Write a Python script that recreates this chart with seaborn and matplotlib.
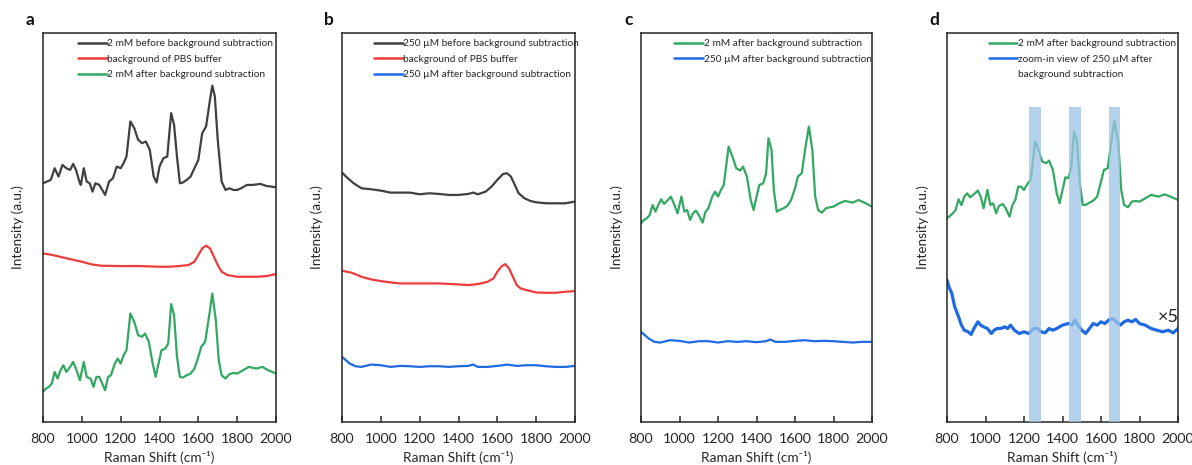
import matplotlib
matplotlib.use("Agg")
import matplotlib.pyplot as plt
from matplotlib.lines import Line2D
import seaborn as sns
import pandas as pd

# ---------------- spectra (Raman shift in cm-1, intensity in a.u., offset per trace) ----------------
# panel a: 2 mM
a_before_x = [800, 820, 840, 860, 880, 900, 920, 940, 955, 970, 990, 995, 1010, 1025, 1040, 1055,
              1070, 1090, 1105, 1120, 1140, 1160, 1180, 1200, 1215, 1230, 1250, 1270, 1290, 1310,
              1330, 1350, 1370, 1385, 1400, 1420, 1440, 1460, 1475, 1490, 1505, 1520, 1540, 1560,
              1580, 1600, 1620, 1640, 1660, 1672, 1685, 1700, 1720, 1740, 1760, 1780, 1800, 1820,
              1850, 1880, 1920, 1950, 2000]
a_before_y = [71.5, 72.0, 72.5, 76.0, 73.5, 77.0, 76.0, 75.5, 77.3, 75.5, 71.5, 71.0, 76.0, 72.0,
              71.5, 69.0, 71.5, 71.0, 69.5, 68.0, 72.0, 73.0, 76.5, 76.0, 77.5, 79.5, 90.0, 88.0,
              84.5, 83.5, 84.0, 81.5, 73.5, 71.7, 76.5, 79.0, 79.5, 92.5, 89.0, 79.5, 71.5, 71.7,
              72.5, 73.5, 76.0, 78.5, 86.5, 88.5, 96.5, 100.7, 97.5, 84.5, 72.0, 69.5, 70.0, 69.5,
              69.5, 70.0, 71.0, 71.0, 71.3, 70.7, 70.3]

a_pbs_x = [800, 850, 900, 1000, 1050, 1100, 1200, 1300, 1400, 1450, 1500, 1550, 1580, 1600, 1620,
           1640, 1660, 1680, 1700, 1720, 1750, 1800, 1850, 1900, 1950, 2000]
a_pbs_y = [50.5, 50.0, 49.3, 48.0, 47.2, 46.8, 46.7, 46.7, 46.5, 46.5, 46.7, 47.0, 48.0, 50.0, 52.0,
           52.8, 52.0, 49.5, 47.0, 45.0, 44.0, 43.5, 43.5, 43.5, 43.7, 44.3]

mm2_x = [800, 815, 830, 845, 860, 875, 890, 905, 920, 940, 955, 970, 990, 1010, 1025, 1045, 1060,
         1075, 1090, 1105, 1120, 1135, 1150, 1170, 1185, 1200, 1215, 1230, 1250, 1270, 1290, 1310,
         1325, 1345, 1365, 1380, 1395, 1410, 1430, 1445, 1460, 1475, 1490, 1505, 1520, 1540, 1560,
         1580, 1600, 1615, 1635, 1655, 1672, 1690, 1705, 1720, 1740, 1760, 1780, 1800, 1830, 1860,
         1900, 1930, 1960, 2000]
a_after_y = [9.0, 10.0, 10.5, 11.5, 15.0, 13.0, 15.5, 17.0, 15.0, 16.5, 18.0, 16.0, 12.5, 18.0, 13.5,
             13.0, 10.5, 13.5, 13.5, 11.5, 9.5, 13.5, 14.0, 17.5, 19.0, 17.5, 20.0, 21.5, 32.5, 30.0,
             26.0, 25.5, 26.5, 24.0, 17.5, 13.5, 17.5, 21.5, 22.0, 23.5, 35.3, 32.0, 19.5, 13.5, 13.3,
             14.0, 14.5, 16.0, 19.5, 22.5, 24.0, 31.5, 38.5, 30.5, 18.5, 14.0, 13.0, 14.3, 14.7, 14.5,
             15.5, 16.5, 16.0, 16.5, 15.5, 14.5]

# panel b: 250 µM
b_before_x = [800, 830, 860, 900, 950, 1000, 1050, 1100, 1150, 1200, 1250, 1300, 1350, 1400, 1450,
              1475, 1500, 1540, 1570, 1600, 1630, 1650, 1670, 1690, 1710, 1740, 1770, 1800, 1850,
              1900, 1950, 2000]
b_before_y = [74.7, 73.0, 71.5, 70.0, 69.7, 69.3, 68.7, 68.7, 68.7, 68.2, 68.5, 68.3, 68.0, 68.0, 68.3,
              68.7, 68.2, 69.0, 70.5, 72.5, 74.3, 74.5, 73.5, 71.0, 68.5, 67.0, 66.2, 65.8, 65.5,
              65.5, 65.5, 66.0]

b_pbs_x = [800, 850, 900, 950, 1000, 1050, 1100, 1200, 1300, 1400, 1450, 1500, 1550, 1580, 1600,
           1620, 1640, 1660, 1680, 1700, 1720, 1750, 1800, 1850, 1900, 1950, 2000]
b_pbs_y = [45.3, 44.7, 43.5, 42.7, 42.2, 41.8, 41.5, 41.5, 41.5, 41.2, 41.0, 41.3, 42.0, 43.0, 45.0,
           46.5, 47.3, 46.0, 43.5, 41.0, 40.0, 39.5, 38.8, 38.7, 38.7, 39.0, 39.2]

b_after_x = [800, 820, 840, 870, 900, 950, 1000, 1050, 1100, 1150, 1200, 1250, 1300, 1350, 1400,
             1450, 1475, 1500, 1550, 1600, 1650, 1700, 1750, 1800, 1850, 1900, 1950, 2000]
b_after_y = [19.5, 18.5, 17.5, 16.7, 16.5, 17.2, 17.0, 16.5, 16.8, 16.7, 16.5, 16.7, 16.7, 16.5, 16.7,
             16.8, 17.2, 16.5, 16.5, 16.8, 17.2, 16.8, 17.0, 17.0, 16.7, 16.5, 16.5, 16.8]

# panel c: both concentrations after subtraction
c_2mm_x = [800, 815, 830, 845, 860, 875, 890, 905, 920, 940, 955, 970, 990, 1010, 1025, 1040, 1055,
           1070, 1085, 1100, 1120, 1135, 1150, 1170, 1185, 1200, 1215, 1230, 1255, 1275, 1295, 1315,
           1330, 1350, 1370, 1385, 1400, 1415, 1435, 1450, 1462, 1478, 1490, 1505, 1520, 1540, 1560,
           1580, 1600, 1615, 1635, 1655, 1672, 1690, 1705, 1720, 1740, 1760, 1780, 1800, 1830, 1860,
           1900, 1930, 1960, 2000]
c_2mm_y = [59.5, 60.5, 61.0, 62.0, 65.0, 63.0, 65.0, 66.7, 65.3, 66.5, 67.5, 65.5, 62.5, 67.5, 63.0,
           63.5, 60.5, 62.5, 63.3, 62.0, 59.7, 63.0, 64.0, 67.5, 69.0, 67.5, 69.5, 71.0, 82.5, 79.5,
           76.0, 75.3, 76.5, 73.5, 66.5, 63.5, 67.5, 71.0, 71.5, 74.5, 85.0, 81.5, 69.5, 63.0, 63.5,
           64.0, 64.7, 66.5, 70.0, 73.5, 74.5, 82.5, 88.5, 81.5, 67.5, 63.5, 62.7, 64.0, 64.3, 64.5,
           65.5, 66.2, 65.7, 66.5, 65.7, 64.5]

c_250_x = [800, 820, 840, 870, 900, 950, 1000, 1050, 1100, 1150, 1200, 1250, 1300, 1350, 1400, 1450,
           1470, 1500, 1550, 1600, 1650, 1700, 1750, 1800, 1850, 1900, 1950, 2000]
c_250_y = [27.0, 26.0, 25.0, 24.0, 23.8, 24.5, 24.3, 23.8, 24.2, 24.2, 23.8, 24.2, 24.0, 24.2, 23.9,
           24.2, 24.7, 24.0, 24.0, 24.3, 24.5, 24.2, 24.3, 24.2, 24.0, 23.8, 24.0, 24.0]

# panel d: 2 mM vs. 250 µM magnified five times
d_2mm_x = [800, 815, 830, 845, 860, 875, 890, 905, 920, 940, 960, 975, 990, 1010, 1025, 1040, 1055,
           1070, 1090, 1105, 1125, 1140, 1155, 1170, 1185, 1200, 1220, 1235, 1258, 1275, 1295, 1315,
           1330, 1350, 1370, 1385, 1400, 1415, 1430, 1445, 1460, 1475, 1490, 1505, 1520, 1540, 1560,
           1580, 1600, 1615, 1635, 1655, 1670, 1690, 1705, 1720, 1740, 1760, 1780, 1800, 1830, 1860,
           1900, 1930, 1960, 2000]
d_2mm_y = [61.0, 61.7, 62.5, 63.5, 66.7, 65.0, 67.5, 68.5, 67.3, 68.2, 69.3, 67.5, 64.0, 69.5, 65.0,
           65.5, 62.5, 64.7, 65.3, 64.0, 61.5, 65.0, 66.5, 70.5, 70.5, 69.5, 71.5, 72.5, 84.0, 81.5,
           78.0, 77.5, 78.3, 75.5, 68.5, 65.5, 69.5, 73.3, 73.0, 76.0, 87.0, 84.0, 71.5, 65.0, 65.0,
           65.7, 66.3, 67.5, 72.0, 75.5, 76.0, 84.5, 90.3, 83.5, 69.5, 65.0, 64.3, 66.0, 66.2, 66.0,
           67.0, 68.0, 67.5, 68.2, 67.5, 66.5]

d_250_x = [800, 810, 825, 840, 860, 875, 890, 910, 925, 940, 960, 975, 990, 1010, 1030, 1045, 1060,
           1080, 1100, 1115, 1130, 1150, 1175, 1200, 1225, 1250, 1270, 1290, 1310, 1330, 1350, 1370,
           1400, 1430, 1450, 1465, 1480, 1500, 1520, 1540, 1560, 1580, 1600, 1620, 1640, 1660, 1680,
           1700, 1720, 1740, 1760, 1780, 1800, 1830, 1860, 1890, 1920, 1950, 1975, 2000]
d_250_y = [42.5, 40.5, 38.5, 34.5, 31.5, 29.0, 27.5, 27.0, 26.2, 28.0, 30.0, 29.0, 28.5, 28.0, 26.5,
           27.5, 28.0, 28.0, 28.5, 28.0, 29.0, 27.5, 26.5, 27.0, 26.5, 28.0, 28.0, 27.0, 26.7, 28.0,
           27.5, 28.0, 29.0, 29.5, 29.0, 30.5, 29.0, 27.5, 26.5, 28.0, 29.5, 29.0, 30.0, 29.5, 30.5,
           31.0, 30.0, 29.0, 30.0, 30.5, 30.0, 30.7, 29.5, 29.0, 28.0, 27.5, 27.0, 27.5, 26.7, 28.0]

# highlighted peak regions (cm-1)
band_lo = [1224, 1432, 1640]
band_hi = [1288, 1498, 1700]

x_ticks = [800, 1000, 1200, 1400, 1600, 1800, 2000]

# ---------------- style ----------------
sns.set_theme(style="ticks")
plt.rcParams["font.family"] = ["Lato", "DejaVu Sans"]
plt.rcParams["axes.linewidth"] = 1.1

GRAY = "#404040"
RED = "#ef3b3b"
GREEN = "#33a862"
BLUE = "#1f6ae0"
INK = "#262626"

fig = plt.figure(figsize=(11.92, 4.65), dpi=100)
W, H = 1192.0, 465.0
lefts = [43, 342, 641, 947]
widths = [233, 233, 231, 231]
axes = [fig.add_axes([l / W, 43 / H, w / W, 389 / H]) for l, w in zip(lefts, widths)]


def trace(ax, x, y, color, lw=1.6):
    df = pd.DataFrame({"x": x, "y": y})
    sns.lineplot(data=df, x="x", y="y", ax=ax, color=color, lw=lw,
                 sort=False, estimator=None)


def legend(ax, entries, x0):
    handles = [Line2D([], [], color=c, lw=lw) for c, _, lw in entries]
    labels = [t for _, t, _ in entries]
    ax.legend(handles, labels, loc="upper left", bbox_to_anchor=(x0, 0.984),
              frameon=False, fontsize=7.3, handlelength=2.85, handletextpad=0.05,
              borderpad=0, borderaxespad=0, labelspacing=0.62)


trace(axes[0], a_before_x, a_before_y, GRAY)
trace(axes[0], a_pbs_x, a_pbs_y, RED)
trace(axes[0], mm2_x, a_after_y, GREEN)
legend(axes[0], [(GRAY, "2 mM before background subtraction", 1.8),
                 (RED, "background of PBS buffer", 1.8),
                 (GREEN, "2 mM after background subtraction", 1.8)], 0.15)

trace(axes[1], b_before_x, b_before_y, GRAY)
trace(axes[1], b_pbs_x, b_pbs_y, RED)
trace(axes[1], b_after_x, b_after_y, BLUE)
legend(axes[1], [(GRAY, "250 µM before background subtraction", 1.8),
                 (RED, "background of PBS buffer", 1.8),
                 (BLUE, "250 µM after background subtraction", 1.8)], 0.137)

trace(axes[2], c_2mm_x, c_2mm_y, GREEN)
trace(axes[2], c_250_x, c_250_y, BLUE)
legend(axes[2], [(GREEN, "2 mM after background subtraction", 1.8),
                 (BLUE, "250 µM after background subtraction", 1.8)], 0.144)

trace(axes[3], d_2mm_x, d_2mm_y, GREEN)
trace(axes[3], d_250_x, d_250_y, BLUE, lw=2.3)
for lo, hi in zip(band_lo, band_hi):
    axes[3].axvspan(lo, hi, ymin=0, ymax=0.809, color="#9dc3e6", alpha=0.75, lw=0, zorder=3)
axes[3].text(1893, 31.5, "×5", fontsize=13, color="#222222", va="center", ha="left")
legend(axes[3], [(GREEN, "2 mM after background subtraction", 1.8),
                 (BLUE, "zoom-in view of 250 µM after", 1.8),
                 ("none", "background subtraction", 0)], 0.18)

for ax, letter in zip(axes, "abcd"):
    ax.set_xlim(800, 2000)
    ax.set_ylim(0, 116.5)
    ax.set_xticks(x_ticks)
    ax.set_yticks([])
    ax.tick_params(axis="x", direction="in", length=4, width=1.1, pad=8,
                   labelsize=10.3, colors=INK)
    for s in ax.spines.values():
        s.set_color(INK)
        s.set_visible(True)
    ax.set_xlabel("Raman Shift (cm⁻¹)", fontsize=9.8, color=INK, va="center")
    ax.set_ylabel("Intensity (a.u.)", fontsize=9.8, color=INK)
    ax.xaxis.set_label_coords(0.5, -0.092)
    ax.yaxis.set_label_coords(-0.08, 0.5)
    ax.text(-0.055, 1.033, letter, transform=ax.transAxes, fontsize=12.5,
            fontweight="bold", ha="center", va="center", color="#111111")

fig.savefig("out.png", dpi=100)
